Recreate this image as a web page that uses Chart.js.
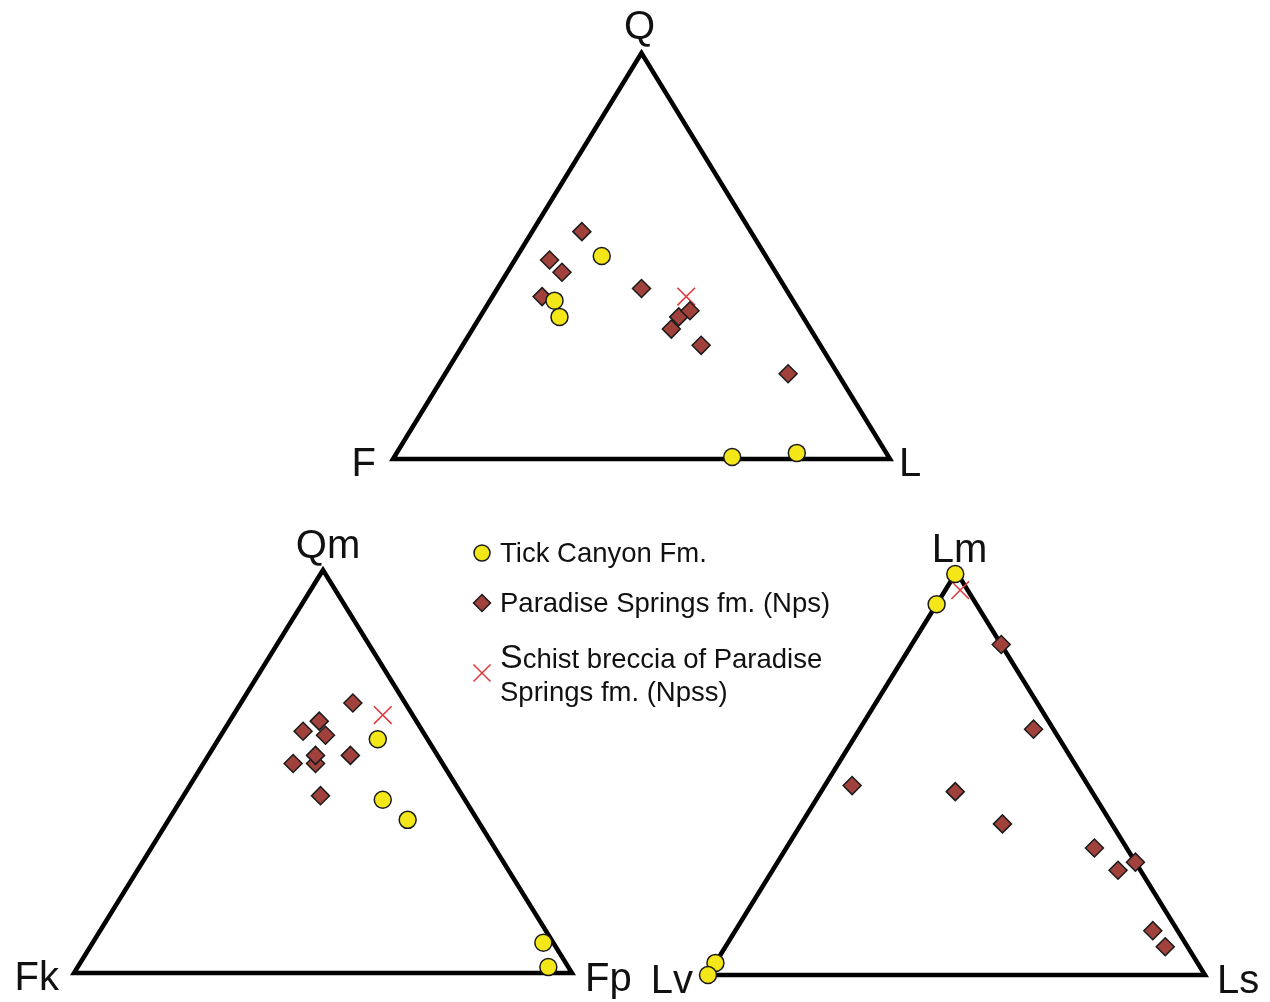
<!DOCTYPE html>
<html>
<head>
<meta charset="utf-8">
<title>QFL, QmFkFp and LmLvLs ternary diagrams</title>
<script src="https://cdn.jsdelivr.net/npm/chart.js@4.4.1/dist/chart.umd.min.js"></script>
<style>
  html, body { margin: 0; padding: 0; background: #ffffff; }
  #stage {
    position: relative; width: 1270px; height: 1002px; overflow: hidden;
    font-family: "Liberation Sans", Arial, Helvetica, sans-serif; color: #111111;
  }
  #stage canvas { position: absolute; left: 0; top: 0; }
  .lbl { position: absolute; white-space: nowrap; line-height: 1; }
  #legendMarks { position: absolute; left: 0; top: 0; }
</style>
</head>
<body>
<div id="stage">
  <canvas id="qfl" width="1270" height="1002"></canvas>
  <canvas id="qmfkfp" width="1270" height="1002"></canvas>
  <canvas id="lmlvls" width="1270" height="1002"></canvas>
  <svg id="legendMarks" width="1270" height="1002"></svg>
</div>
<script>
// ---- Compositions, percent, each row = [top, lower-left, lower-right] ----
// Q–F–L diagram
const qflLabels = ['Q', 'F', 'L'];
const qflTick = [[50, 33, 17], [39, 48, 13], [35, 49, 16], [0.5, 31.5, 68], [1.5, 18, 80.5]];
const qflNps = [[56, 34, 10], [49, 44, 7], [46, 43, 11], [40, 50, 10], [42, 29, 29],
                [32, 28, 40], [35, 25, 40], [36.5, 22, 41.5], [28, 24, 48], [21, 10, 69]];
const qflNpss = [[40, 21, 39]];

// Qm–Fk–Fp diagram
const qmfLabels = ['Qm', 'Fk', 'Fp'];
const qmfTick = [[58, 10, 32], [43, 16.5, 40.5], [38, 14, 48], [7.5, 2, 90.5], [1.5, 4, 94.5]];
const qmfNps = [[67, 10.5, 22.5], [62.5, 19.5, 18], [60, 24, 16], [59, 20, 21], [52, 25.5, 22.5],
                [54, 24.5, 21.5], [52, 30, 18], [54, 17.5, 28.5], [44, 28.5, 27.5]];
const qmfNpss = [[64, 6, 30]];

// Lm–Lv–Ls diagram
const lmLabels = ['Lm', 'Lv', 'Ls'];
const lmTick = [[99.5, 0.5, 0], [92, 8, 0], [3, 97, 0], [0, 100, 0]];
const lmNps = [[82, 0, 18], [61, 4, 35], [47, 47.5, 5.5], [45.5, 27.5, 27], [37.5, 22, 40.5],
               [31.5, 6.5, 62], [28, 0, 72], [26, 4.5, 69.5], [11, 5, 84], [7, 4.5, 88.5]];
const lmNpss = [[95.5, 1.5, 3]];

const seriesNames = ['Tick Canyon Fm.', 'Paradise Springs fm. (Nps)', 'Schist breccia of Paradise Springs fm. (Npss)'];

// ---- Styling ----
const TICK_FILL = '#f3e619';
const NPS_FILL = '#a0413c';
const NPSS_RED = '#dd3b40';
const EDGE = '#1b1b1b';
const W = 1270, H = 1002;

// ternary -> cartesian in a 0..100 frame (top vertex centred above the base)
function toXY(rows) {
  return rows.map(([top, left, right]) => {
    const s = top + left + right;
    const a = top / s, c = right / s;
    return { x: (c + a / 2) * 100, y: a * 100 };
  });
}
const frameRows = [[100, 0, 0], [0, 100, 0], [0, 0, 100], [100, 0, 0], [0, 100, 0]];

const stage = document.getElementById('stage');
function addLabel(text, x, baseline, align, size) {
  const d = document.createElement('div');
  d.className = 'lbl';
  d.textContent = text;
  d.style.fontSize = size + 'px';
  d.style.left = x + 'px';
  d.style.top = (baseline - 0.8465 * size) + 'px';
  if (align === 'center') d.style.transform = 'translateX(-50%)';
  if (align === 'right') d.style.transform = 'translateX(-100%)';
  stage.appendChild(d);
  return d;
}

function ternary(id, box, labels, tick, nps, npss, offs) {
  const chart = new Chart(document.getElementById(id), {
    type: 'scatter',
    data: {
      datasets: [
        { label: seriesNames[0], data: toXY(tick), pointStyle: 'circle', pointRadius: 8.5,
          backgroundColor: TICK_FILL, borderColor: EDGE, borderWidth: 1.5, clip: false },
        { label: seriesNames[1], data: toXY(nps), pointStyle: 'rectRot', pointRadius: 9,
          backgroundColor: NPS_FILL, borderColor: EDGE, borderWidth: 1.5, clip: false },
        { label: seriesNames[2], data: toXY(npss), pointStyle: 'crossRot', pointRadius: 12.5,
          backgroundColor: NPSS_RED, borderColor: NPSS_RED, borderWidth: 1.6, clip: false },
        { label: 'frame', data: toXY(frameRows), showLine: true, pointRadius: 0,
          borderColor: '#000000', borderWidth: 4.5, borderJoinStyle: 'miter', tension: 0,
          fill: false, clip: false }
      ]
    },
    options: {
      responsive: false, animation: false, events: [],
      layout: { padding: { left: box.left, right: W - box.right, top: box.top, bottom: H - box.bottom } },
      scales: {
        x: { type: 'linear', min: 0, max: 100, display: false },
        y: { type: 'linear', min: 0, max: 100, display: false }
      },
      plugins: { legend: { display: false }, tooltip: { enabled: false } }
    }
  });
  const sx = chart.scales.x, sy = chart.scales.y;
  const v = toXY(frameRows.slice(0, 3)).map(p => ({ x: sx.getPixelForValue(p.x), y: sy.getPixelForValue(p.y) }));
  addLabel(labels[0], v[0].x + offs.top[0], v[0].y + offs.top[1], 'center', 40);
  addLabel(labels[1], v[1].x + offs.left[0], v[1].y + offs.left[1], 'right', 40);
  addLabel(labels[2], v[2].x + offs.right[0], v[2].y + offs.right[1], 'left', 40);
  return chart;
}

ternary('qfl', { left: 393, right: 890, top: 53, bottom: 459 }, qflLabels, qflTick, qflNps, qflNpss,
  { top: [-2, -14], left: [-17, 17], right: [9, 17] });
ternary('qmfkfp', { left: 74, right: 572, top: 570, bottom: 973 }, qmfLabels, qmfTick, qmfNps, qmfNpss,
  { top: [5, -12], left: [-15, 17], right: [13, 18] });
ternary('lmlvls', { left: 708, right: 1205, top: 572, bottom: 975 }, lmLabels, lmTick, lmNps, lmNpss,
  { top: [3, -10], left: [-15, 18], right: [12, 18] });

// ---- Legend ----
const svgNS = 'http://www.w3.org/2000/svg';
const marks = document.getElementById('legendMarks');
function svgEl(tag, attrs) {
  const e = document.createElementNS(svgNS, tag);
  for (const k in attrs) e.setAttribute(k, attrs[k]);
  marks.appendChild(e);
}
svgEl('circle', { cx: 482, cy: 553, r: 8, fill: TICK_FILL, stroke: EDGE, 'stroke-width': 1.5 });
svgEl('polygon', { points: '482,594.5 490.5,603 482,611.5 473.5,603', fill: NPS_FILL, stroke: EDGE, 'stroke-width': 1.5 });
svgEl('line', { x1: 473.5, y1: 664.5, x2: 490.5, y2: 681.5, stroke: NPSS_RED, 'stroke-width': 1.6 });
svgEl('line', { x1: 490.5, y1: 664.5, x2: 473.5, y2: 681.5, stroke: NPSS_RED, 'stroke-width': 1.6 });

const LEG = 27.5;
addLabel(seriesNames[0], 500, 562.5, 'left', LEG);
addLabel(seriesNames[1], 500, 612.5, 'left', LEG);
(function () {
  const d = addLabel('', 500, 668, 'left', LEG);
  const big = document.createElement('span');
  big.textContent = 'S';
  big.style.fontSize = '34px';
  big.style.lineHeight = '0';
  d.appendChild(big);
  d.appendChild(document.createTextNode('chist breccia of Paradise'));
})();
addLabel('Springs fm. (Npss)', 500, 701, 'left', LEG);
</script>
</body>
</html>
